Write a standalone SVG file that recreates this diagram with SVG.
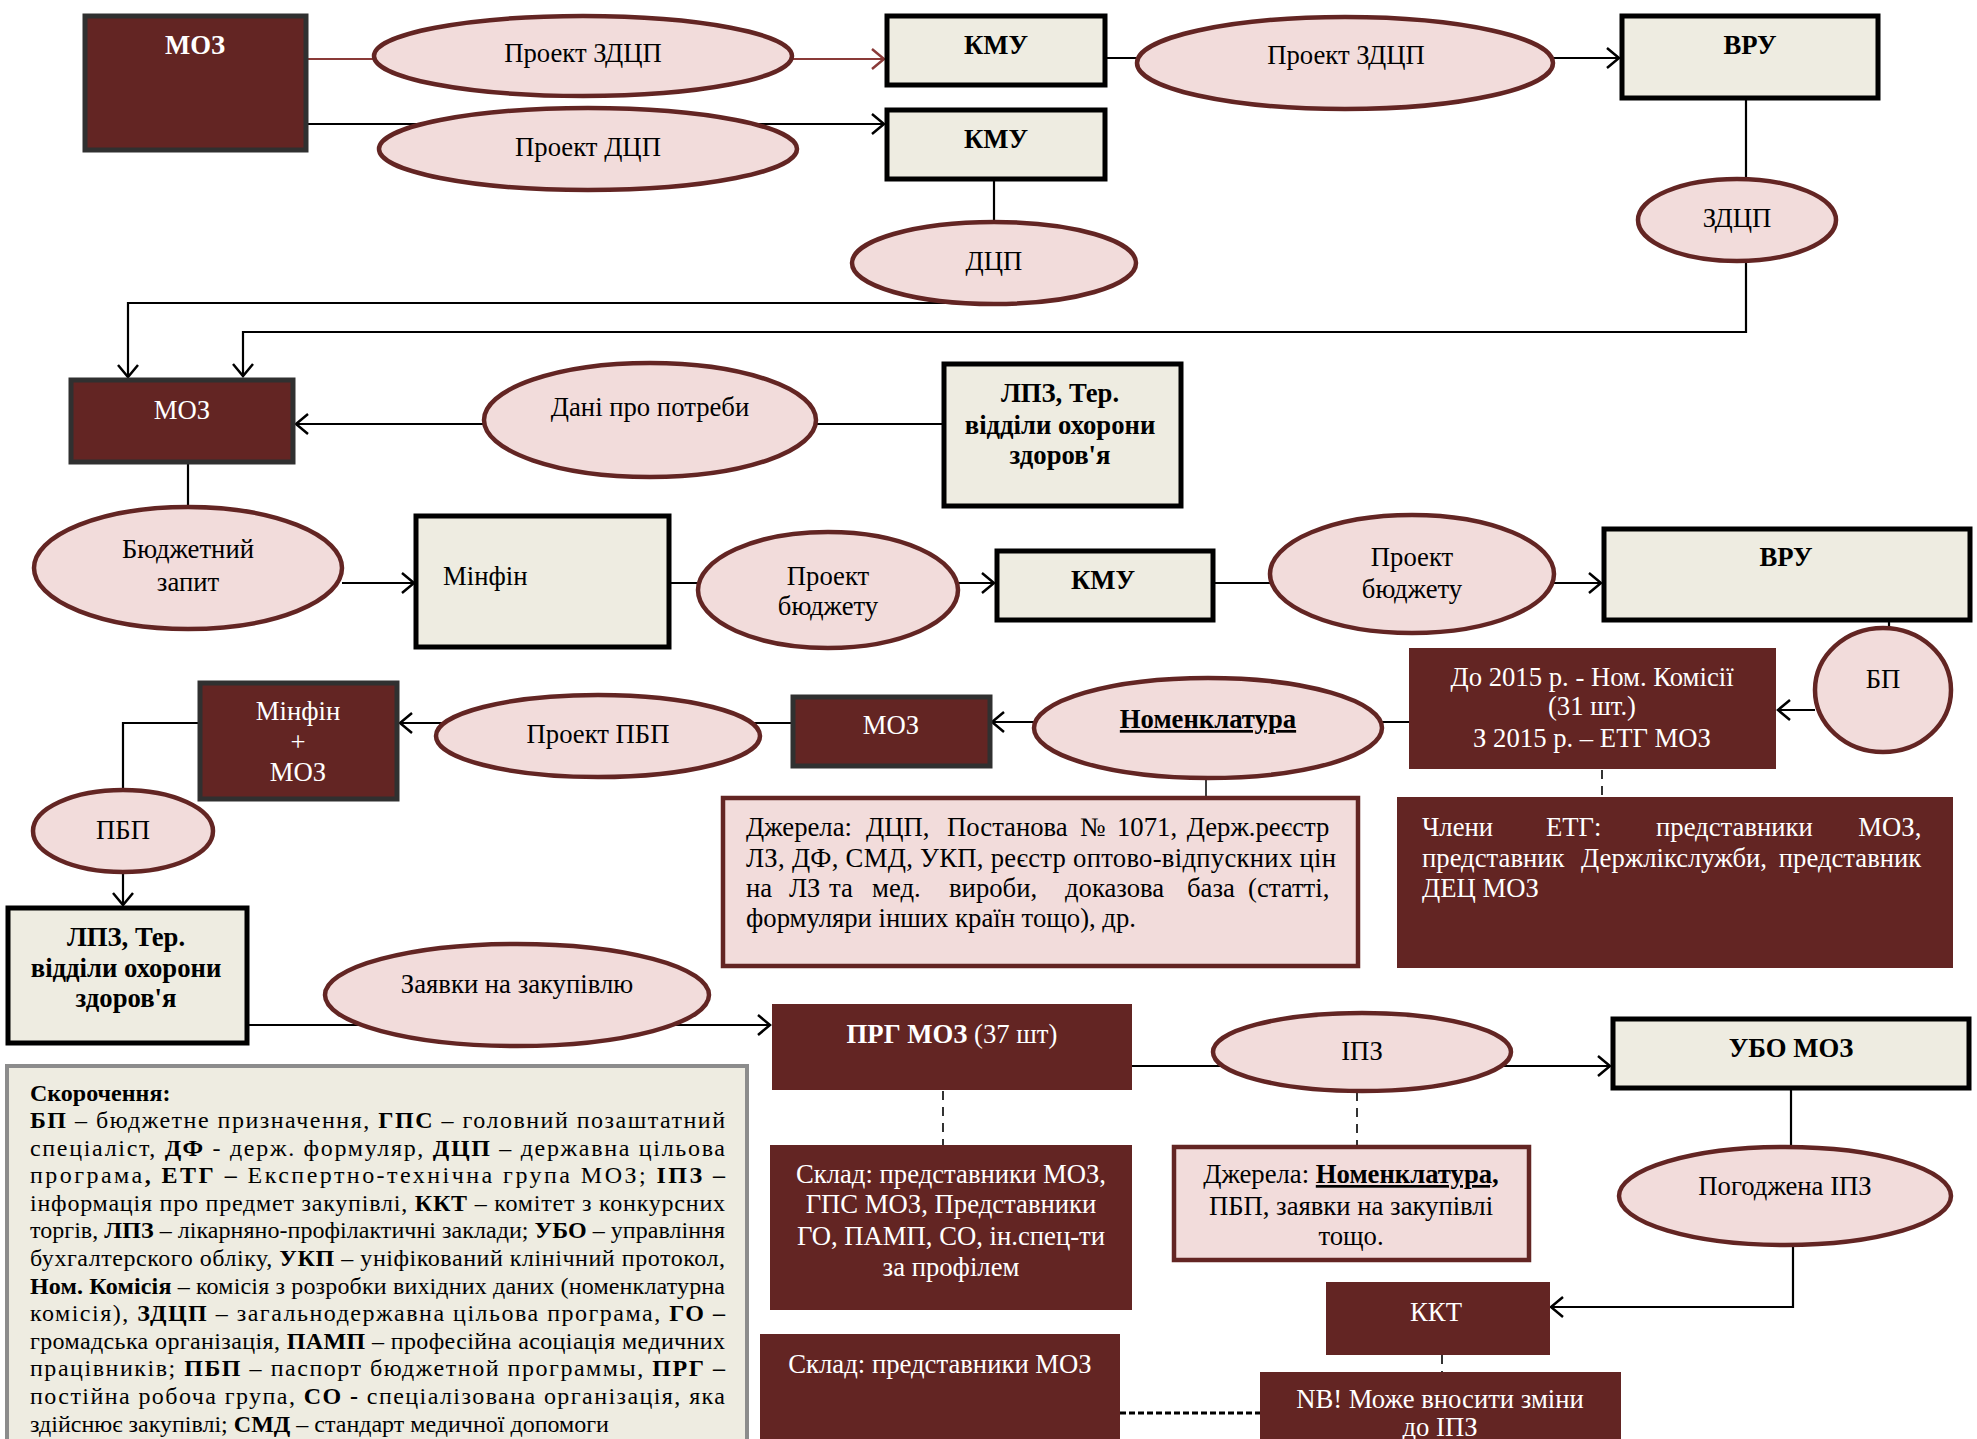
<svg xmlns="http://www.w3.org/2000/svg" width="1977" height="1439" viewBox="0 0 1977 1439">
<defs>
<marker id="ab" markerUnits="userSpaceOnUse" markerWidth="16" markerHeight="22" refX="13" refY="11" orient="auto"><path d="M1,1 L13,11 L1,21" fill="none" stroke="#000" stroke-width="2.5"/></marker>
<marker id="am" markerUnits="userSpaceOnUse" markerWidth="16" markerHeight="22" refX="13" refY="11" orient="auto"><path d="M1,1 L13,11 L1,21" fill="none" stroke="#8a3a38" stroke-width="2.5"/></marker>
</defs>
<style>
text{font-family:"Liberation Serif","Times New Roman",serif;font-size:26.7px;fill:#000}
.c{text-anchor:middle}
.e{text-anchor:end}
.w{fill:#fff}
.b{font-weight:bold}
.u{text-decoration:underline}
.lg{font-size:24px}
.dk{fill:#632523;stroke:#303030;stroke-width:5}
.mr{fill:#632523}
.bg{fill:#eeece1;stroke:#000;stroke-width:5}
.el{fill:#f2dcdb;stroke:#632523;stroke-width:4.5}
.pk{fill:#f2dcdb;stroke:#632523;stroke-width:4.5}
.leg{fill:#eeece1;stroke:#8c8c8c;stroke-width:4}
.ln{fill:none;stroke:#000;stroke-width:2.2}
.lm{fill:none;stroke:#8a3a38;stroke-width:2.2}
.ds{fill:none;stroke:#000;stroke-width:1.6;stroke-dasharray:9 7}
.ds2{fill:none;stroke:#000;stroke-width:3;stroke-dasharray:6 3}
</style>
<rect width="1977" height="1439" fill="#fff"/>
<g id="connectors">
<path class="lm" d="M306,59 H884" marker-end="url(#am)"/>
<path class="ln" d="M306,124 H884" marker-end="url(#ab)"/>
<path class="ln" d="M994,181 V222"/>
<path class="ln" d="M1107,58 H1619" marker-end="url(#ab)"/>
<path class="ln" d="M1746,100 V332 H243 V376" marker-end="url(#ab)"/>
<path class="ln" d="M955,303 H128 V377" marker-end="url(#ab)"/>
<path class="ln" d="M942,424 H296" marker-end="url(#ab)"/>
<path class="ln" d="M188,462 V507"/>
<path class="ln" d="M342,583 H414" marker-end="url(#ab)"/>
<path class="ln" d="M669,583 H994" marker-end="url(#ab)"/>
<path class="ln" d="M1213,583 H1601" marker-end="url(#ab)"/>
<path class="ln" d="M1889,622 V628"/>
<path class="ln" d="M1815,710 H1778" marker-end="url(#ab)"/>
<path class="ln" d="M1409,722 H992" marker-end="url(#ab)"/>
<path class="ln" d="M791,723 H400" marker-end="url(#ab)"/>
<path class="ln" d="M198,723 H123 V790"/>
<path class="ln" d="M123,872 V905" marker-end="url(#ab)"/>
<path class="ln" d="M249,1025 H770" marker-end="url(#ab)"/>
<path class="ln" d="M1206,779 V797" style="stroke-width:1.5"/>
<path class="ds" d="M1602,770 V797"/>
<path class="ln" d="M1132,1066 H1610" marker-end="url(#ab)"/>
<path class="ds" d="M943,1091 V1145"/>
<path class="ds" d="M1357,1092 V1146"/>
<path class="ln" d="M1791,1089 V1147"/>
<path class="ln" d="M1793,1245 V1307 H1551" marker-end="url(#ab)"/>
<path class="ds" d="M1442,1355 V1372"/>
<path class="ds2" d="M1120,1413 H1260"/>
</g>
<g id="moz1"><rect class="dk" x="85" y="16" width="221" height="134"/><text class="c w b" x="195" y="54">МОЗ</text></g>
<g id="e-proekt-zdcp1"><ellipse class="el" cx="583" cy="56" rx="209" ry="40"/><text class="c" x="583" y="62">Проект ЗДЦП</text></g>
<g id="kmu1"><rect class="bg" x="887" y="16" width="218" height="69"/><text class="c b" x="996" y="54">КМУ</text></g>
<g id="kmu2"><rect class="bg" x="887" y="110" width="218" height="69"/><text class="c b" x="996" y="148">КМУ</text></g>
<g id="e-proekt-dcp"><ellipse class="el" cx="588" cy="149" rx="209" ry="41"/><text class="c" x="588" y="156">Проект ДЦП</text></g>
<g id="e-dcp"><ellipse class="el" cx="994" cy="263" rx="142" ry="41"/><text class="c" x="994" y="270">ДЦП</text></g>
<g id="e-proekt-zdcp2"><ellipse class="el" cx="1345" cy="63" rx="208" ry="46"/><text class="c" x="1346" y="64">Проект ЗДЦП</text></g>
<g id="vru1"><rect class="bg" x="1622" y="16" width="256" height="82"/><text class="c b" x="1750" y="54">ВРУ</text></g>
<g id="e-zdcp"><ellipse class="el" cx="1737" cy="220" rx="99" ry="41"/><text class="c" x="1737" y="227">ЗДЦП</text></g>
<g id="moz2"><rect class="dk" x="71" y="380" width="222" height="82"/><text class="c w" x="182" y="419">МОЗ</text></g>
<g id="e-dani"><ellipse class="el" cx="650" cy="420" rx="166" ry="57"/><text class="c" x="650" y="416">Дані про потреби</text></g>
<g id="lpz1"><rect class="bg" x="944" y="364" width="237" height="142"/><text class="c b" x="1060" y="402">ЛПЗ, Тер.<tspan x="1060" y="434">відділи охорони</tspan><tspan x="1060" y="464">здоров'я</tspan></text></g>
<g id="e-budzh-zapyt"><ellipse class="el" cx="188" cy="568" rx="154" ry="61"/><text class="c" x="188" y="558">Бюджетний<tspan x="188" y="591">запит</tspan></text></g>
<g id="minfin"><rect class="bg" x="416" y="516" width="253" height="131"/><text x="443" y="585">Мінфін</text></g>
<g id="e-proekt-budzh1"><ellipse class="el" cx="828" cy="590" rx="130" ry="58"/><text class="c" x="828" y="585">Проект<tspan x="828" y="615">бюджету</tspan></text></g>
<g id="kmu3"><rect class="bg" x="997" y="551" width="216" height="69"/><text class="c b" x="1103" y="589">КМУ</text></g>
<g id="e-proekt-budzh2"><ellipse class="el" cx="1412" cy="574" rx="142" ry="59"/><text class="c" x="1412" y="566">Проект<tspan x="1412" y="598">бюджету</tspan></text></g>
<g id="vru2"><rect class="bg" x="1604" y="529" width="366" height="91"/><text class="c b" x="1786" y="566">ВРУ</text></g>
<g id="e-bp"><ellipse class="el" cx="1883" cy="690" rx="68" ry="62"/><text class="c" x="1883" y="688">БП</text></g>
<g id="etg"><rect class="mr" x="1409" y="648" width="367" height="121"/><text class="c w" x="1592" y="686">До 2015 р. - Ном. Комісії<tspan x="1592" y="715">(31 шт.)</tspan><tspan x="1592" y="747">З 2015 р. – ЕТГ МОЗ</tspan></text></g>
<g id="e-nomenklatura"><ellipse class="el" cx="1208" cy="728" rx="174" ry="50"/><text class="c b u" x="1208" y="728">Номенклатура</text></g>
<g id="moz3"><rect class="dk" x="793" y="697" width="197" height="69"/><text class="c w" x="891" y="734">МОЗ</text></g>
<g id="e-proekt-pbp"><ellipse class="el" cx="598" cy="736" rx="162" ry="41"/><text class="c" x="598" y="743">Проект ПБП</text></g>
<g id="minfin-moz"><rect class="dk" x="200" y="683" width="197" height="116"/><text class="c w" x="298" y="720">Мінфін<tspan x="298" y="751">+</tspan><tspan x="298" y="781">МОЗ</tspan></text></g>
<g id="e-pbp"><ellipse class="el" cx="123" cy="831" rx="90" ry="41"/><text class="c" x="123" y="839">ПБП</text></g>
<g id="lpz2"><rect class="bg" x="8" y="908" width="239" height="135"/><text class="c b" x="126" y="946">ЛПЗ, Тер.<tspan x="126" y="977">відділи охорони</tspan><tspan x="126" y="1007">здоров'я</tspan></text></g>
<g id="e-zayavky"><ellipse class="el" cx="517" cy="995" rx="192" ry="51"/><text class="c" x="517" y="993">Заявки на закупівлю</text></g>
<g id="sources1"><rect class="pk" x="723" y="798" width="635" height="168"/><text>
<tspan x="746" y="836">Джерела:</tspan><tspan x="866" y="836">ДЦП,</tspan><tspan x="947" y="836">Постанова</tspan><tspan x="1080" y="836">№</tspan><tspan x="1117" y="836">1071,</tspan><tspan class="e" x="1336" y="836">Держ.реєстр</tspan>
<tspan x="746" y="866.5" textLength="590" lengthAdjust="spacing">ЛЗ, ДФ, СМД, УКП, реєстр оптово-відпускних цін</tspan>
<tspan x="746" y="897">на</tspan><tspan x="789" y="897">ЛЗ</tspan><tspan x="829" y="897">та</tspan><tspan x="872" y="897">мед.</tspan><tspan x="949" y="897">вироби,</tspan><tspan x="1065" y="897">доказова</tspan><tspan x="1187" y="897">база</tspan><tspan class="e" x="1336" y="897">(статті,</tspan>
<tspan x="746" y="927">формуляри інших країн тощо), др.</tspan>
</text></g>
<g id="etg-members"><rect class="mr" x="1397" y="797" width="556" height="171"/><text class="w">
<tspan x="1422" y="836">Члени</tspan><tspan x="1546" y="836">ЕТГ:</tspan><tspan x="1656" y="836">представники</tspan><tspan class="e" x="1928" y="836">МОЗ,</tspan>
<tspan x="1422" y="866.5">представник</tspan><tspan x="1581" y="866.5">Держлікслужби,</tspan><tspan class="e" x="1928" y="866.5">представник</tspan>
<tspan x="1422" y="897">ДЕЦ МОЗ</tspan>
</text></g>
<g id="prg"><rect class="mr" x="772" y="1004" width="360" height="86"/><text class="c w" x="952" y="1043"><tspan class="b">ПРГ МОЗ</tspan> (37 шт)</text></g>
<g id="e-ipz"><ellipse class="el" cx="1362" cy="1052" rx="149" ry="39"/><text class="c" x="1362" y="1060">ІПЗ</text></g>
<g id="ubo"><rect class="bg" x="1613" y="1019" width="356" height="69"/><text class="c b" x="1791" y="1057">УБО МОЗ</text></g>
<g id="sklad1"><rect class="mr" x="770" y="1145" width="362" height="165"/><text class="c w" x="951" y="1183">Склад: представники МОЗ,<tspan x="951" y="1213">ГПС МОЗ, Представники</tspan><tspan x="951" y="1245">ГО, ПАМП, СО, ін.спец-ти</tspan><tspan x="951" y="1276">за профілем</tspan></text></g>
<g id="sources2"><rect class="pk" x="1174" y="1147" width="355" height="113"/><text class="c" x="1351" y="1183">Джерела: <tspan class="b u">Номенклатура,</tspan><tspan x="1351" y="1215">ПБП, заявки на закупівлі</tspan><tspan x="1351" y="1245">тощо.</tspan></text></g>
<g id="e-pogodzhena"><ellipse class="el" cx="1785" cy="1196" rx="166" ry="49"/><text class="c" x="1785" y="1195">Погоджена ІПЗ</text></g>
<g id="kkt"><rect class="mr" x="1326" y="1282" width="224" height="73"/><text class="c w" x="1436" y="1321">ККТ</text></g>
<g id="sklad2"><rect class="mr" x="760" y="1334" width="360" height="120"/><text class="c w" x="940" y="1373">Склад: представники МОЗ</text></g>
<g id="nb"><rect class="mr" x="1260" y="1372" width="361" height="80"/><text class="c w" x="1440" y="1408">NB! Може вносити зміни<tspan x="1440" y="1436">до ІПЗ</tspan></text></g>
<g id="legend"><rect class="leg" x="7" y="1066" width="740" height="400"/>
<text class="lg">
<tspan x="30" y="1101" class="b">Скорочення:</tspan>
<tspan x="30" y="1128" textLength="695" lengthAdjust="spacing"><tspan class="b">БП</tspan> – бюджетне призначення, <tspan class="b">ГПС</tspan> – головний позаштатний</tspan>
<tspan x="30" y="1155.6" textLength="695" lengthAdjust="spacing">спеціаліст, <tspan class="b">ДФ</tspan> - держ. формуляр, <tspan class="b">ДЦП</tspan> – державна цільова</tspan>
<tspan x="30" y="1183.2" textLength="695" lengthAdjust="spacing">програма<tspan class="b">, ЕТГ –</tspan> Експертно-технічна група МОЗ; <tspan class="b">ІПЗ –</tspan></tspan>
<tspan x="30" y="1210.8" textLength="695" lengthAdjust="spacing">інформація про предмет закупівлі, <tspan class="b">ККТ</tspan> – комітет з конкурсних</tspan>
<tspan x="30" y="1238.4" textLength="695" lengthAdjust="spacing">торгів, <tspan class="b">ЛПЗ</tspan> – лікарняно-профілактичні заклади; <tspan class="b">УБО</tspan> – управління</tspan>
<tspan x="30" y="1266" textLength="695" lengthAdjust="spacing">бухгалтерского обліку, <tspan class="b">УКП</tspan> – уніфікований клінічний протокол,</tspan>
<tspan x="30" y="1293.6" textLength="695" lengthAdjust="spacing"><tspan class="b">Ном. Комісія</tspan> – комісія з розробки вихідних даних (номенклатурна</tspan>
<tspan x="30" y="1321.2" textLength="695" lengthAdjust="spacing">комісія), <tspan class="b">ЗДЦП</tspan> – загальнодержавна цільова програма, <tspan class="b">ГО –</tspan></tspan>
<tspan x="30" y="1348.8" textLength="695" lengthAdjust="spacing">громадська організація, <tspan class="b">ПАМП</tspan> – професійна асоціація медичних</tspan>
<tspan x="30" y="1376.4" textLength="695" lengthAdjust="spacing">працівників; <tspan class="b">ПБП</tspan> – паспорт бюджетной программы, <tspan class="b">ПРГ –</tspan></tspan>
<tspan x="30" y="1404" textLength="695" lengthAdjust="spacing">постійна робоча група, <tspan class="b">СО -</tspan> спеціалізована організація, яка</tspan>
<tspan x="30" y="1431.6">здійснює закупівлі; <tspan class="b">СМД</tspan> – стандарт медичної допомоги</tspan>
</text></g>
</svg>
